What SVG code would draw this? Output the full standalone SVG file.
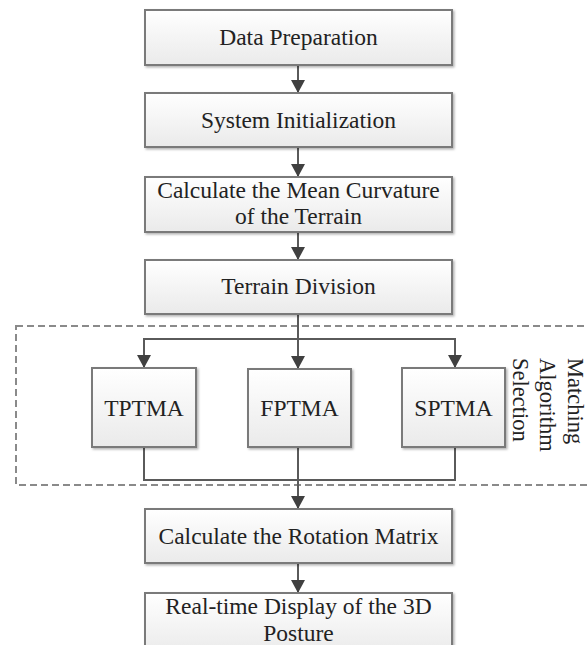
<svg xmlns="http://www.w3.org/2000/svg" width="587" height="645" viewBox="0 0 587 645">
<defs>
<linearGradient id="g" x1="0" y1="0" x2="0" y2="1">
<stop offset="0" stop-color="#ffffff"/>
<stop offset="1" stop-color="#eaeaea"/>
</linearGradient>
<filter id="sh" x="-10%" y="-10%" width="130%" height="140%">
<feDropShadow dx="1.5" dy="1.5" stdDeviation="1" flood-color="#000" flood-opacity="0.3"/>
</filter>
<marker id="ah" markerWidth="15" markerHeight="14" refX="14" refY="7.5" orient="auto" markerUnits="userSpaceOnUse" viewBox="0 0 14 15">
<polygon points="0,0 14,7.5 0,15" fill="#404040"/>
</marker>
<style>
.box{fill:url(#g);stroke:#7a7a7a;stroke-width:2;filter:url(#sh)}
.t{font-size:23.5px;fill:#222;text-anchor:middle}
.c{fill:none;stroke:#5a5a5a;stroke-width:2}
.dash{fill:none;stroke:#8a8a8a;stroke-width:2;stroke-dasharray:7 4}
</style>
</defs>
<g id="group-matching">
<rect class="dash" x="16" y="326" width="580" height="159"/>
<text font-family="Liberation Serif, Times New Roman, serif" font-size="22.5" fill="#222" transform="translate(567.5,358) rotate(90)"><tspan x="0" y="0">Matching</tspan><tspan x="0" y="27.5">Algorithm</tspan><tspan x="0" y="55">Selection</tspan></text>
</g>
<g id="connectors">
<path class="c" d="M298,65 V93" marker-end="url(#ah)"/>
<path class="c" d="M298,147 V177" marker-end="url(#ah)"/>
<path class="c" d="M298,232 V260" marker-end="url(#ah)"/>
<path class="c" d="M298,314 V369" marker-end="url(#ah)"/>
<path class="c" d="M298,339 H144 V368" marker-end="url(#ah)"/>
<path class="c" d="M298,339 H455 V368" marker-end="url(#ah)"/>
<path class="c" d="M144,447 V480 H455 V447"/>
<path class="c" d="M298,447 V509" marker-end="url(#ah)"/>
<path class="c" d="M298,563 V593" marker-end="url(#ah)"/>
</g>
<g font-family="Liberation Serif, Times New Roman, serif">
<g id="data-preparation">
<rect class="box" x="145" y="10" width="307" height="55"/>
<text class="t" x="298.5" y="45">Data Preparation</text>
</g>
<g id="system-initialization">
<rect class="box" x="145" y="93" width="307" height="54"/>
<text class="t" x="298.5" y="128">System Initialization</text>
</g>
<g id="mean-curvature">
<rect class="box" x="145" y="177" width="307" height="55"/>
<text class="t" x="298.5" y="198">Calculate the Mean Curvature</text>
<text class="t" x="298.5" y="224">of the Terrain</text>
</g>
<g id="terrain-division">
<rect class="box" x="145" y="260" width="307" height="54"/>
<text class="t" x="298.5" y="294">Terrain Division</text>
</g>
<g id="tptma">
<rect class="box" x="92" y="368" width="104" height="79"/>
<text class="t" x="144" y="416">TPTMA</text>
</g>
<g id="fptma">
<rect class="box" x="248" y="369" width="103" height="78"/>
<text class="t" x="299.5" y="416">FPTMA</text>
</g>
<g id="sptma">
<rect class="box" x="402" y="368" width="103" height="79"/>
<text class="t" x="453.5" y="416">SPTMA</text>
</g>
<g id="rotation-matrix">
<rect class="box" x="145" y="509" width="307" height="54"/>
<text class="t" x="298.5" y="544">Calculate the Rotation Matrix</text>
</g>
<g id="realtime-display">
<rect class="box" x="145" y="593" width="307" height="62"/>
<text class="t" x="298.5" y="614">Real-time Display of the 3D</text>
<text class="t" x="298.5" y="641">Posture</text>
</g>
</g>
</svg>
